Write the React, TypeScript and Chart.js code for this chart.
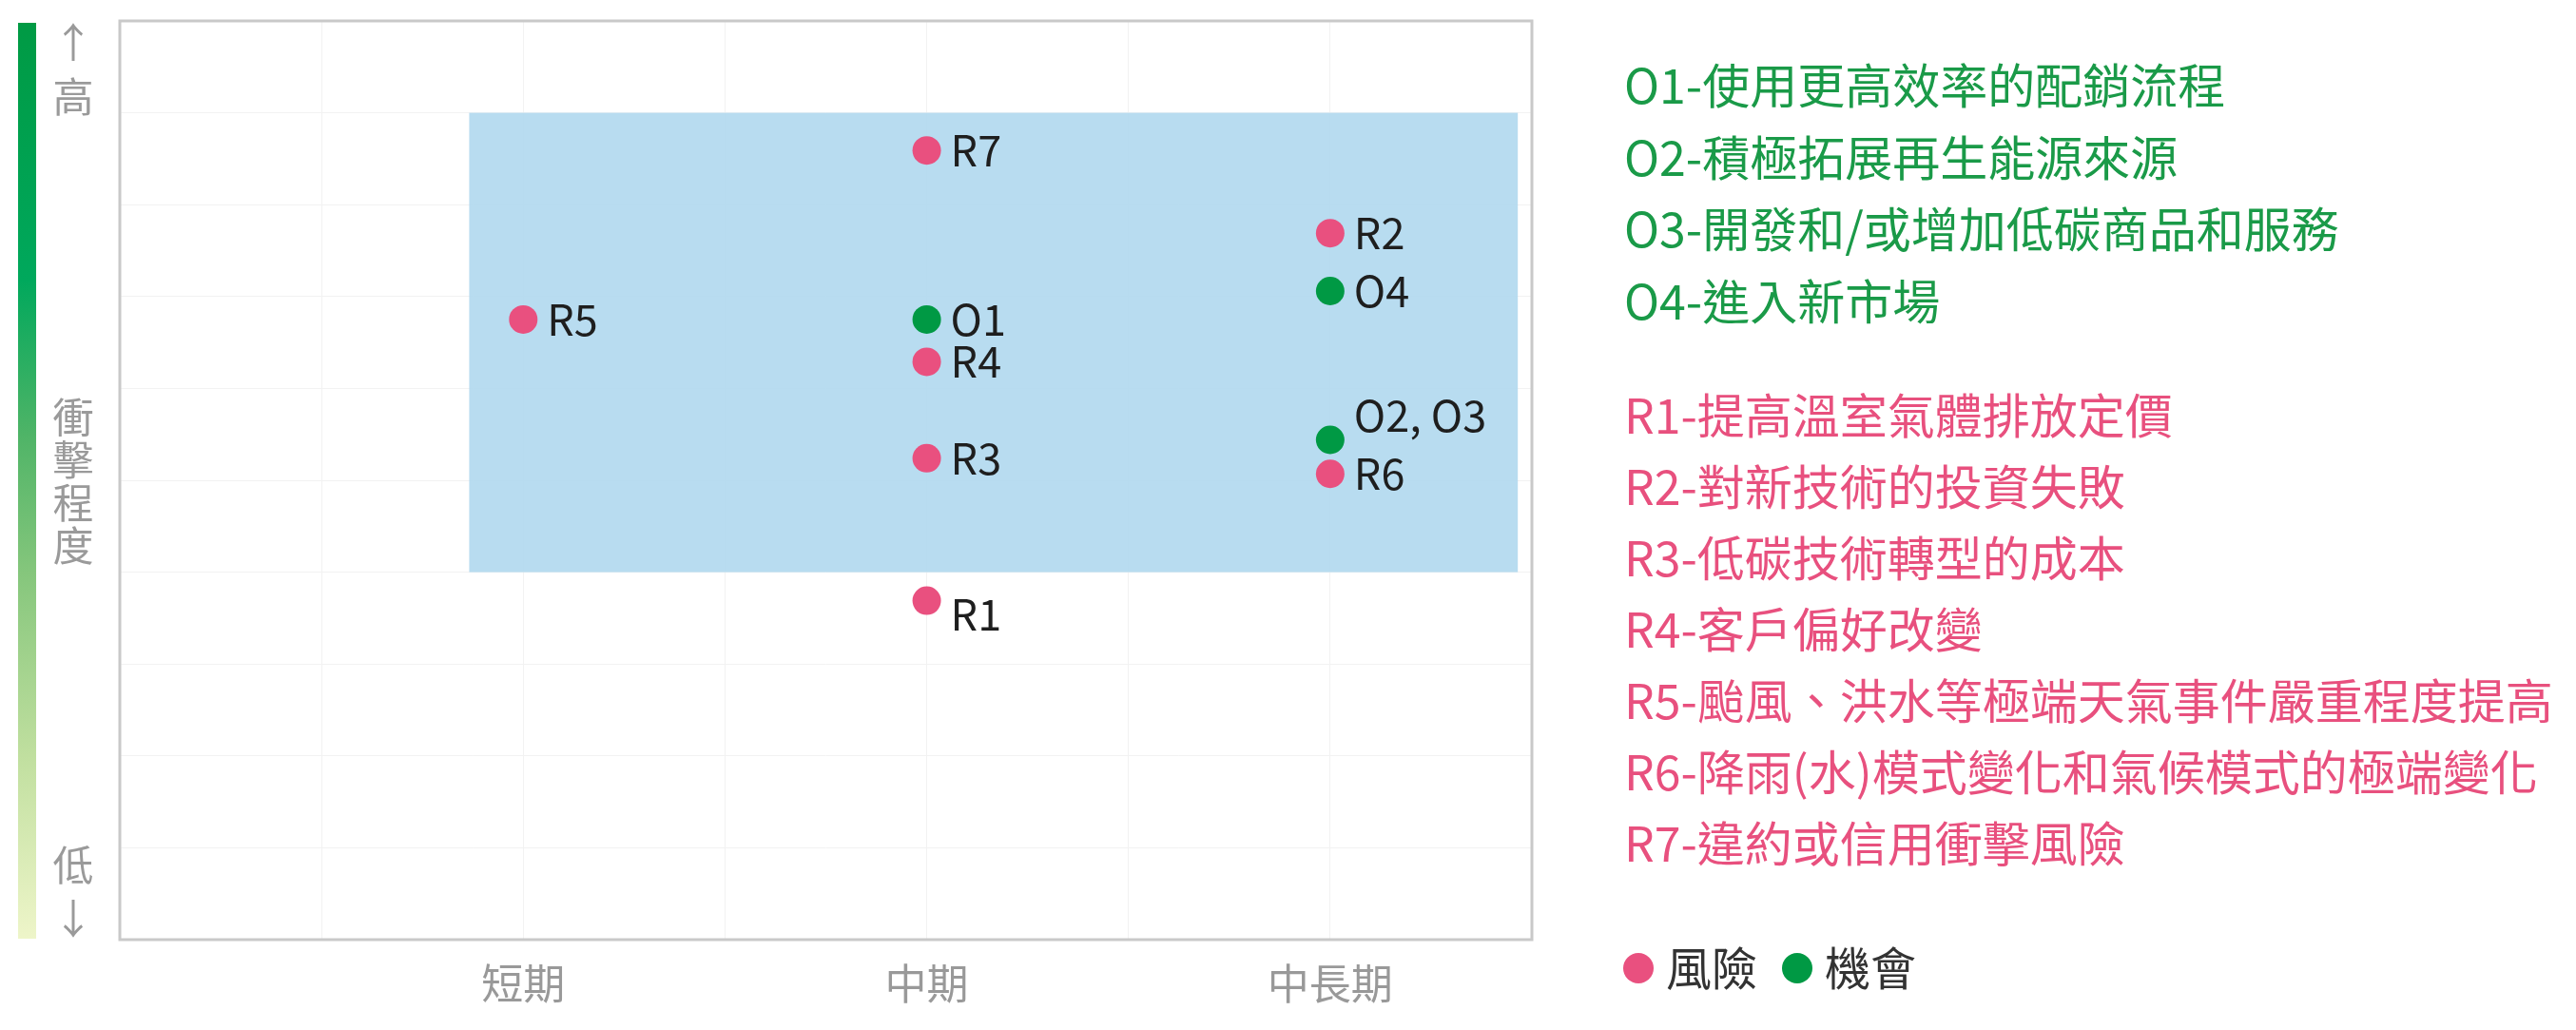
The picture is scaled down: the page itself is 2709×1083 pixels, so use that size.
import React, { useEffect, useRef } from 'react';
import { Chart, registerables } from 'chart.js';

Chart.register(...registerables);

const W = 2709;
const H = 1083;
const FONT = '"Noto Sans CJK TC", "Noto Sans", sans-serif';

// ---- data ----
const termCategories = ['短期', '中期', '中長期'];
const termTicks = [1, 2, 3];

const riskLabels = ['R1', 'R2', 'R3', 'R4', 'R5', 'R6', 'R7'];
const riskTerm = [2, 3, 2, 2, 1, 3, 2];
const riskImpact = [3.69, 7.69, 5.24, 6.29, 6.75, 5.07, 8.59];

const oppLabels = ['O1', 'O4', 'O2, O3'];
const oppTerm = [2, 3, 3];
const oppImpact = [6.75, 7.06, 5.44];

const focusTerm = [0.866, 3.465];
const focusImpact = [4, 9];

const seriesNames = ['風險', '機會'];

const opportunityLegend = [
  'O1-使用更高效率的配銷流程',
  'O2-積極拓展再生能源來源',
  'O3-開發和/或增加低碳商品和服務',
  'O4-進入新市場',
];
const riskLegend = [
  'R1-提高溫室氣體排放定價',
  'R2-對新技術的投資失敗',
  'R3-低碳技術轉型的成本',
  'R4-客戶偏好改變',
  'R5-颱風、洪水等極端天氣事件嚴重程度提高',
  'R6-降雨(水)模式變化和氣候模式的極端變化',
  'R7-違約或信用衝擊風險',
];

const axisTopText = ['↑', '高'];
const axisMidText = ['衝', '擊', '程', '度'];
const axisBottomText = ['低', '↓'];

// ---- styles ----
const PINK = '#e9507f';
const GREEN = '#009944';
const PINK_TEXT = '#e8507e';
const GREEN_TEXT = '#1a9a48';
const labelOffsetY: Record<string, number> = { 'O2, O3': -26, R1: 14 };

const overlayPlugin = {
  id: 'overlay',
  beforeDraw(chart: any) {
    const { ctx } = chart;
    ctx.save();
    ctx.fillStyle = '#ffffff';
    ctx.fillRect(0, 0, chart.width, chart.height);

    // gradient bar
    const gTop = 24;
    const gBot = 987;
    const g = ctx.createLinearGradient(0, gTop, 0, gBot);
    g.addColorStop(0, '#009a44');
    g.addColorStop(0.28, '#00a85c');
    g.addColorStop(0.45, '#4fb467');
    g.addColorStop(0.6, '#85c67c');
    g.addColorStop(0.8, '#c0df9f');
    g.addColorStop(1, '#eef5c9');
    ctx.fillStyle = g;
    ctx.fillRect(19, gTop, 19, gBot - gTop);

    // vertical axis label
    ctx.fillStyle = '#9a9a9a';
    ctx.font = `43px ${FONT}`;
    ctx.textAlign = 'center';
    ctx.textBaseline = 'middle';
    const cx = 77;
    const topY = [45, 102];
    axisTopText.forEach((t, i) => ctx.fillText(t, cx, topY[i]));
    axisMidText.forEach((t, i) => ctx.fillText(t, cx, 439 + i * 45));
    const botY = [910, 966];
    axisBottomText.forEach((t, i) => ctx.fillText(t, cx, botY[i]));
    ctx.restore();
  },
  beforeDatasetsDraw(chart: any) {
    const { ctx, scales } = chart;
    const xs = scales.x;
    const ys = scales.y;
    ctx.save();
    const x0 = xs.getPixelForValue(focusTerm[0]);
    const x1 = xs.getPixelForValue(focusTerm[1]);
    const y0 = ys.getPixelForValue(focusImpact[1]);
    const y1 = ys.getPixelForValue(focusImpact[0]);
    ctx.fillStyle = 'rgba(179,217,239,0.93)';
    ctx.fillRect(x0, y0, x1 - x0, y1 - y0);
    ctx.restore();
  },
  afterDatasetsDraw(chart: any) {
    const { ctx } = chart;
    ctx.save();
    ctx.font = `45px ${FONT}`;
    ctx.fillStyle = '#1e1e1e';
    ctx.textAlign = 'left';
    ctx.textBaseline = 'middle';
    chart.data.datasets.forEach((ds: any, di: number) => {
      const meta = chart.getDatasetMeta(di);
      meta.data.forEach((el: any, i: number) => {
        const lbl = ds.pointLabels[i];
        const dy = labelOffsetY[lbl] || 0;
        ctx.fillText(lbl, el.x + 25, el.y + dy);
      });
    });
    ctx.restore();
  },
  afterDraw(chart: any) {
    const { ctx, chartArea } = chart;
    ctx.save();
    ctx.strokeStyle = '#c9c9c9';
    ctx.lineWidth = 3;
    ctx.strokeRect(chartArea.left, chartArea.top, chartArea.right - chartArea.left, chartArea.bottom - chartArea.top);

    // right legend
    ctx.font = `50px ${FONT}`;
    ctx.textAlign = 'left';
    ctx.textBaseline = 'middle';
    const lx = 1708;
    ctx.fillStyle = GREEN_TEXT;
    opportunityLegend.forEach((t, i) => ctx.fillText(t, lx, 90 + i * 75.5));
    ctx.fillStyle = PINK_TEXT;
    riskLegend.forEach((t, i) => ctx.fillText(t, lx, 437 + i * 75));

    // series legend
    ctx.font = `48px ${FONT}`;
    const ly = 1018;
    const items = [
      { name: seriesNames[0], color: PINK },
      { name: seriesNames[1], color: GREEN },
    ];
    let x = 1707;
    items.forEach((it) => {
      ctx.fillStyle = it.color;
      ctx.beginPath();
      ctx.arc(x + 16, ly, 16, 0, Math.PI * 2);
      ctx.fill();
      ctx.fillStyle = '#333333';
      ctx.fillText(it.name, x + 45, ly);
      x += 45 + ctx.measureText(it.name).width + 26;
    });
    ctx.restore();
  },
};

export default function App() {
  const ref = useRef<HTMLCanvasElement | null>(null);
  useEffect(() => {
    if (!ref.current) return;
    const chart = new Chart(ref.current, {
      type: 'scatter',
      data: {
        datasets: [
          {
            label: seriesNames[0],
            data: riskTerm.map((x, i) => ({ x, y: riskImpact[i] })),
            pointLabels: riskLabels,
            backgroundColor: PINK,
            borderWidth: 0,
            pointRadius: 15,
          } as any,
          {
            label: seriesNames[1],
            data: oppTerm.map((x, i) => ({ x, y: oppImpact[i] })),
            pointLabels: oppLabels,
            backgroundColor: GREEN,
            borderWidth: 0,
            pointRadius: 15,
          } as any,
        ],
      },
      options: {
        animation: false,
        responsive: false,
        maintainAspectRatio: false,
        devicePixelRatio: 1,
        layout: { padding: { left: 126, top: 22, right: W - 1611, bottom: 0 } },
        plugins: { legend: { display: false }, tooltip: { enabled: false } },
        scales: {
          x: {
            type: 'linear',
            min: 0,
            max: 3.5,
            afterFit: (s: any) => {
              s.height = H - 988;
            },
            afterBuildTicks: (s: any) => {
              const t = [];
              for (let v = 0; v <= 3.5001; v += 0.5) t.push({ value: Math.round(v * 10) / 10 });
              s.ticks = t;
            },
            grid: { color: '#f2f2f2', lineWidth: 1, drawTicks: false },
            border: { display: false },
            ticks: {
              autoSkip: false,
              maxRotation: 0,
              padding: 20,
              color: '#999999',
              font: { family: FONT, size: 44 },
              callback: (v: any) => {
                const i = termTicks.indexOf(Number(v));
                return i >= 0 ? termCategories[i] : '';
              },
            },
          },
          y: {
            type: 'linear',
            min: 0,
            max: 10,
            afterFit: (s: any) => {
              s.width = 0;
            },
            grid: { color: '#f2f2f2', lineWidth: 1, drawTicks: false },
            border: { display: false },
            ticks: { display: false, stepSize: 1 },
          },
        },
      } as any,
      plugins: [overlayPlugin],
    });
    return () => chart.destroy();
  }, []);
  return (
    <div style={{ position: 'absolute', left: 0, top: 0, width: W, height: H, background: '#fff' }}>
      <canvas ref={ref} width={W} height={H} style={{ width: W, height: H, display: 'block' }} />
    </div>
  );
}
